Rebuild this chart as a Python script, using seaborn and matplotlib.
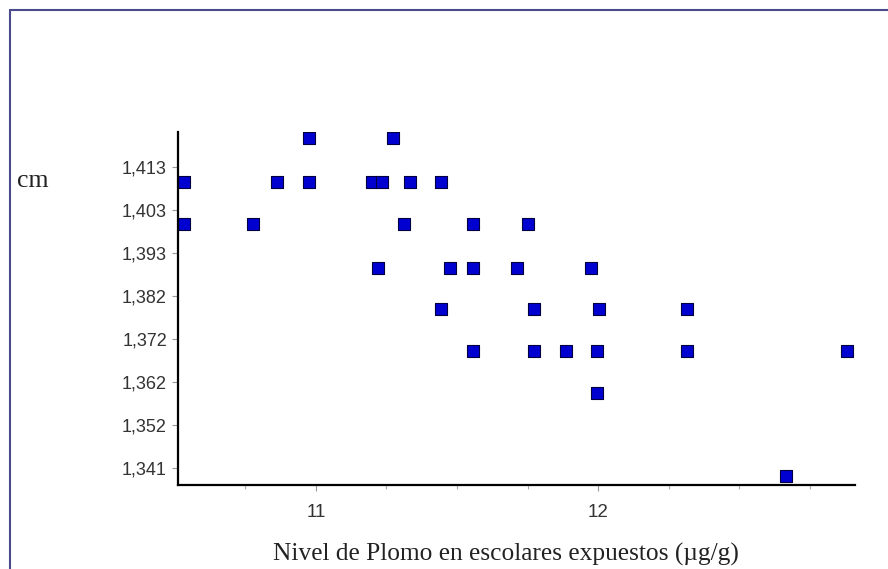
import numpy as np
import pandas as pd
import matplotlib.pyplot as plt
from matplotlib.lines import Line2D
import seaborn as sns

# data
plomo = [10.532, 10.532, 10.777, 10.862, 10.975, 10.977, 11.199, 11.220, 11.234,
         11.273, 11.312, 11.333, 11.443, 11.445, 11.475, 11.557, 11.557, 11.557,
         11.713, 11.752, 11.773, 11.773, 11.887, 11.975, 11.996, 11.996, 12.004,
         12.316, 12.316, 12.667, 12.883]
talla = [1.4095, 1.3995, 1.3995, 1.4095, 1.4095, 1.4200, 1.4095, 1.3890, 1.4095,
         1.4200, 1.3995, 1.4095, 1.3790, 1.4095, 1.3890, 1.3995, 1.3890, 1.3690,
         1.3890, 1.3995, 1.3790, 1.3690, 1.3690, 1.3890, 1.3690, 1.3590, 1.3790,
         1.3790, 1.3690, 1.3390, 1.3690]
y_ticks = [1.341, 1.3513, 1.3616, 1.3719, 1.3822, 1.3925, 1.4028, 1.4131]
y_labels = ["1,341", "1,352", "1,362", "1,372", "1,382", "1,393", "1,403", "1,413"]
x_ticks = [11, 12]

df = pd.DataFrame({"plomo": plomo, "talla": talla})

sns.set_style("white")
plt.rcParams["font.family"] = ["Liberation Sans", "DejaVu Sans"]
serif = ["Liberation Serif", "DejaVu Serif"]

fig = plt.figure(figsize=(8.88, 5.69), dpi=100)
ax = fig.add_axes([178 / 888, 84 / 569, 677 / 888, 353 / 569])

sns.scatterplot(data=df, x="plomo", y="talla", ax=ax, marker="s", s=85,
                color="#0000d0", edgecolor="#000040", linewidth=0.8, legend=False)

ax.set_xlim(10.511, 12.911)
ax.set_ylim(1.3369, 1.4215)

ax.set_xticks(x_ticks)
ax.set_xticklabels([str(t) for t in x_ticks], fontsize=13.5, color="#333333")
ax.set_xticks(np.arange(10.75, 12.9, 0.25), minor=True)
ax.set_yticks(y_ticks)
ax.set_yticklabels(y_labels, fontsize=13, color="#333333")

ax.tick_params(axis="x", which="major", direction="out", length=4, width=0.8,
               color="#999999", pad=10, bottom=True)
ax.tick_params(axis="x", which="minor", direction="out", length=3, width=0.8,
               color="#aaaaaa", bottom=True)
ax.tick_params(axis="y", direction="out", length=4, width=0.8,
               color="#999999", pad=4, left=True)

for side in ["top", "right"]:
    ax.spines[side].set_visible(False)
for side in ["left", "bottom"]:
    ax.spines[side].set_color("black")
    ax.spines[side].set_linewidth(1.6)

ax.set_xlabel("")
ax.set_ylabel("")
fig.text(506 / 888, 8 / 569, "Nivel de Plomo en escolares expuestos (µg/g)",
         fontsize=18.3, ha="center", va="baseline", family=serif, color="#222222")
fig.text(17 / 888, 1 - 181 / 569, "cm", fontsize=18.5, va="center", ha="left",
         family=serif, color="#222222")

# frame lines at the top and left edge
fig.add_artist(Line2D([10 / 888, 10 / 888], [0, 1 - 10 / 569], transform=fig.transFigure,
                      color="#4a4a8c", linewidth=1.5))
fig.add_artist(Line2D([10 / 888, 1], [1 - 10 / 569, 1 - 10 / 569], transform=fig.transFigure,
                      color="#4a4a8c", linewidth=1.5))

fig.savefig("out.png", dpi=100)
